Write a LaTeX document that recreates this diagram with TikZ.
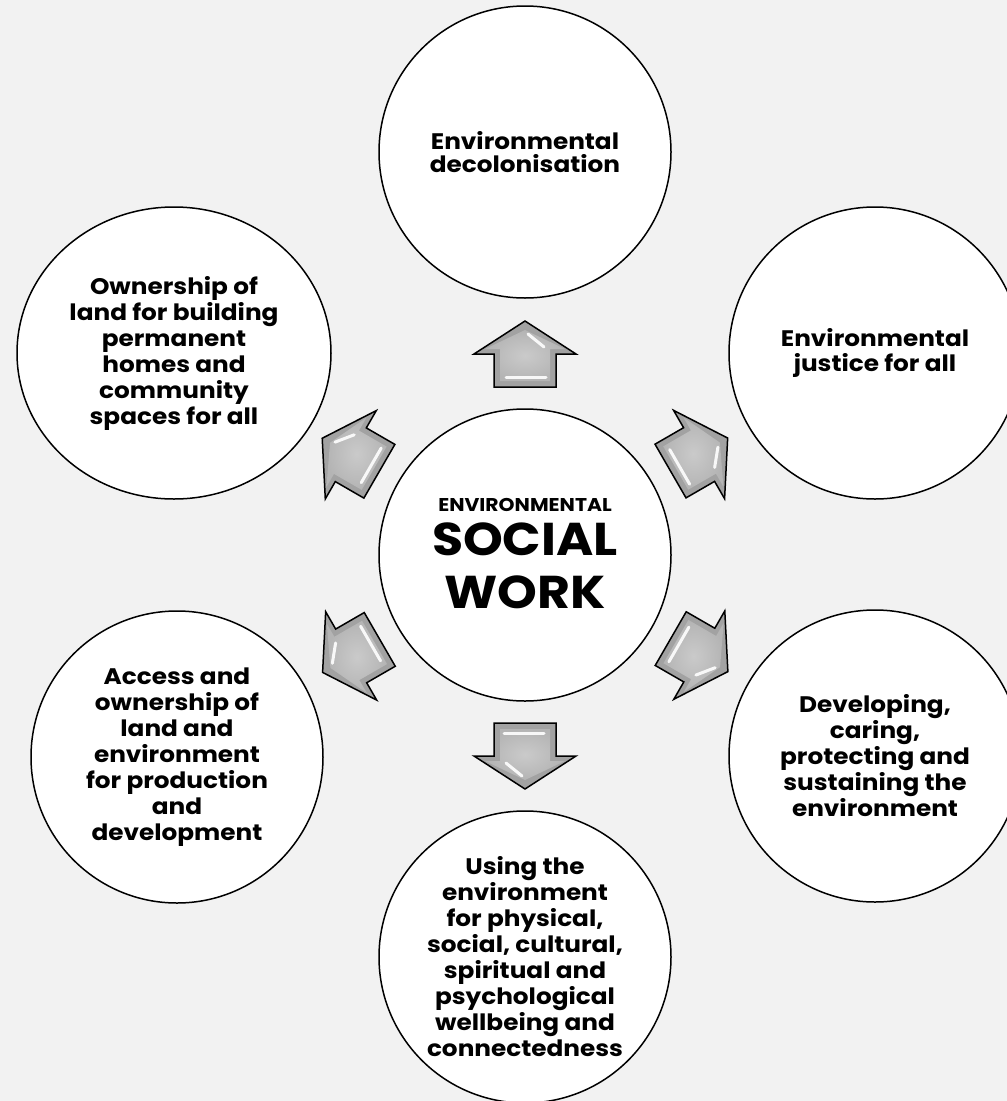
\documentclass[tikz,border=0pt]{standalone}
\usepackage{fontspec}
\setmainfont{Poppins}[FakeStretch=1.1]
\usetikzlibrary{calc,shapes.geometric}
\definecolor{bg}{HTML}{F2F2F2}
\definecolor{arrowdark}{HTML}{A2A2A2}
\definecolor{arrowmid}{HTML}{B4B4B4}
\definecolor{arrowlight}{HTML}{CACACA}
\newcommand\esbody{\fontsize{22.5}{26}\selectfont\bfseries}
\tikzset{
  circ/.style={circle, draw=black, line width=1.5pt, fill=white,
    minimum size=292pt, inner sep=0pt, align=center, font=\esbody},
  oval/.style={ellipse, draw=black, line width=1.5pt, fill=white,
    minimum width=314pt, minimum height=292pt, inner sep=0pt, align=center, font=\esbody},
  pics/blockarrow/.style={code={
    \path[fill=arrowdark] (-32,-31) -- (1,-31) -- (1,-51) -- (34,0) -- (1,51) -- (1,31) -- (-32,31) -- cycle;
    \path[inner color=arrowlight, outer color=arrowmid] (-26,-25) -- (6,-25) -- (6,-40) -- (25,0) -- (6,40) -- (6,25) -- (-26,25) -- cycle;
    \draw[white, line width=3pt, line cap=round, opacity=.9] (-22,-19) -- (-22,21);
    \draw[white, line width=3pt, line cap=round, opacity=.9] (21,3) -- (8,19);
    \draw[black, line width=1.5pt] (-32,-31) -- (1,-31) -- (1,-51) -- (34,0) -- (1,51) -- (1,31) -- (-32,31) -- cycle;
  }}
}
\begin{document}
\begin{tikzpicture}[x=1pt,y=-1pt]
\useasboundingbox (0,0) rectangle (1007,1101);
\fill[bg] (0,0) rectangle (1007,1101);
\clip (0,0) rectangle (1007,1101);

\node[circ, font=\fontsize{22.5}{22.5}\selectfont\bfseries] (top) at (525,152) {Environmental\\decolonisation};
\node[circ, font=\fontsize{22.5}{24.5}\selectfont\bfseries] (tr) at (875,353) {Environmental\\justice for all};
\node[oval] (tl) at (174,353) {Ownership of\\land for building\\permanent\\homes and\\community\\spaces for all};
\node[circ] (bl) at (177,757) {Access and\\ownership of\\land and\\environment\\for production\\and\\development};
\node[circ] (br) at (875,756) {Developing,\\caring,\\protecting and\\sustaining the\\environment};
\node[circ] (bot) at (525,957) {Using the\\environment\\for physical,\\social, cultural,\\spiritual and\\psychological\\wellbeing and\\connectedness};

\node[circ] (c) at (525,555) {\begin{tabular}{@{}c@{}}{\fontsize{18.5}{18.5}\selectfont ENVIRONMENTAL}\\[3pt]{\fontsize{46}{46}\selectfont SOCIAL}\\[13pt]{\fontsize{46}{46}\selectfont WORK}\end{tabular}};

\pic[rotate=90] at ($(c)!200pt!(top)$) {blockarrow};
\pic[rotate=30] at ($(c)!200pt!(tr)$) {blockarrow};
\pic[rotate=-30] at ($(c)!200pt!(br)$) {blockarrow};
\pic[rotate=-90] at ($(c)!200pt!(bot)$) {blockarrow};
\pic[rotate=210] at ($(c)!200pt!(bl)$) {blockarrow};
\pic[rotate=150] at ($(c)!200pt!(tl)$) {blockarrow};
\end{tikzpicture}
\end{document}
